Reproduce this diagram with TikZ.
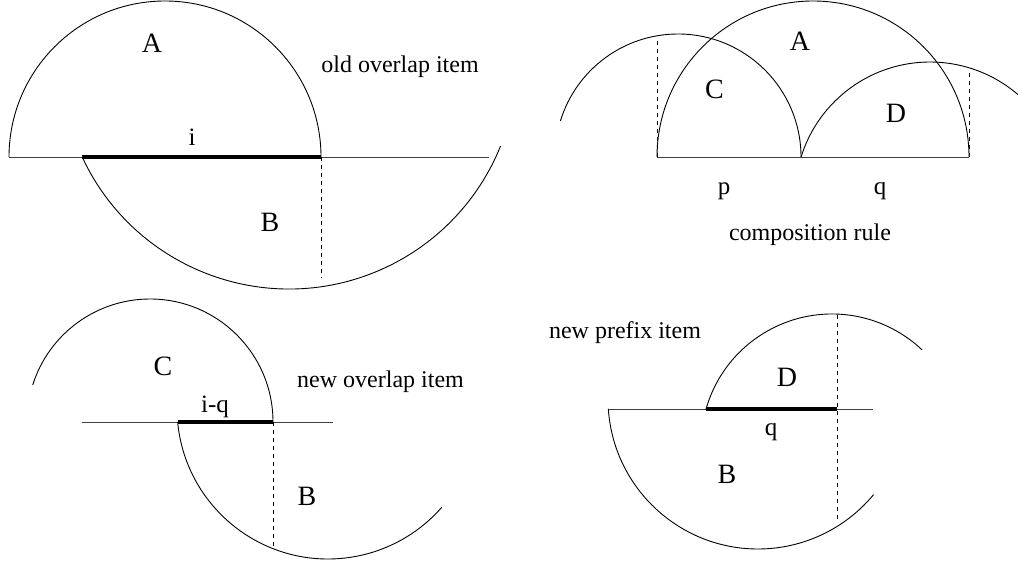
\documentclass[tikz,border=0pt]{standalone}
\usepackage{fontspec}
\setmainfont{Liberation Serif}
\begin{document}
\begin{tikzpicture}[x=1pt,y=-1pt,
  arcln/.style={line width=0.9pt, black},
  baseln/.style={line width=0.9pt, black!75},
  heavy/.style={line width=4pt, black},
  dashln/.style={line width=0.9pt, black, dash pattern=on 4pt off 4pt},
  lbl/.style={font=\fontsize{24}{28}\selectfont, inner sep=0pt, outer sep=0pt},
  caplbl/.style={font=\fontsize{28}{32}\selectfont, inner sep=0pt, outer sep=0pt},
  varlbl/.style={font=\fontsize{25}{29}\selectfont, inner sep=0pt, outer sep=0pt}]
\useasboundingbox (0,0) rectangle (1018,564);

% ---------- panel 1: old overlap item ----------
\coordinate (p1L) at (9,157);
\coordinate (p1R) at (489,157);
\coordinate (p1s) at (82,157);
\coordinate (p1e) at (321,157);
\coordinate (p1d) at (321,278);
\draw[baseln] (p1L) -- (p1R);
\draw[heavy] (p1s) -- (p1e);
\draw[arcln] (165,157) ++(180:156) arc[start angle=180, end angle=360, radius=156];
\draw[arcln] (289,61) ++(155.1:228) arc[start angle=155.1, end angle=21.9, radius=228];
\draw[dashln] (p1e) -- (p1d);
\node[caplbl] (A1) at (152,43) {A};
\node[varlbl] (i1) at (192,137) {i};
\node[caplbl] (B1) at (270,222) {B};
\node[lbl, anchor=base] (t1) at (400,73) {old overlap item};

% ---------- panel 2: composition rule ----------
\coordinate (p2L) at (657,157);
\coordinate (p2M) at (801,157);
\coordinate (p2R) at (969,157);
\coordinate (p2dl) at (657,37);
\coordinate (p2dr) at (969,72);
\draw[baseln] (p2L) -- (p2R);
\draw[arcln] (813,157) ++(180:156) arc[start angle=180, end angle=360, radius=156];
\draw[arcln] (678,157) ++(0:123) arc[start angle=0, end angle=-163, radius=123];
\draw[arcln] (930,197) ++(-162.8:135) arc[start angle=-162.8, end angle=-49, radius=135];
\draw[dashln] (p2L) -- (p2dl);
\draw[dashln] (p2R) -- (p2dr);
\node[caplbl] (A2) at (800,41) {A};
\node[caplbl] (C2) at (714.5,89) {C};
\node[caplbl] (D2) at (896,113) {D};
\node[varlbl] (p2) at (724,191) {p};
\node[varlbl] (q2) at (880,191) {q};
\node[lbl, anchor=base] (t2) at (810,241) {composition rule};

% ---------- panel 3: new overlap item ----------
\coordinate (p3L) at (82,422);
\coordinate (p3R) at (333,422);
\coordinate (p3s) at (178,422);
\coordinate (p3e) at (273,422);
\coordinate (p3d) at (273,549);
\draw[baseln] (p3L) -- (p3R);
\draw[heavy] (p3s) -- (p3e);
\draw[arcln] (150,422) ++(0:123) arc[start angle=0, end angle=-162.5, radius=123];
\draw[arcln] (328,408) ++(174.7:151) arc[start angle=174.7, end angle=41, radius=151];
\draw[dashln] (p3e) -- (p3d);
\node[caplbl] (C3) at (163,366) {C};
\node[varlbl] (iq3) at (215,407) {i-q};
\node[caplbl] (B3) at (307,496) {B};
\node[lbl, anchor=base] (t3) at (380.5,387) {new overlap item};

% ---------- panel 4: new prefix item ----------
\coordinate (p4L) at (609,409);
\coordinate (p4R) at (873,409);
\coordinate (p4s) at (706,409);
\coordinate (p4e) at (837,409);
\coordinate (p4dt) at (837,315);
\coordinate (p4db) at (837,520);
\draw[baseln] (p4L) -- (p4R);
\draw[heavy] (p4s) -- (p4e);
\draw[arcln] (832,445) ++(-164.1:131) arc[start angle=-164.1, end angle=-46.5, radius=131];
\draw[arcln] (758,399) ++(176.2:150) arc[start angle=176.2, end angle=39.6, radius=150];
\draw[dashln] (p4dt) -- (p4db);
\node[caplbl] (D4) at (787,377) {D};
\node[varlbl] (q4) at (771,432) {q};
\node[caplbl] (B4) at (727,474) {B};
\node[lbl, anchor=base] (t4) at (625,338) {new prefix item};
\end{tikzpicture}
\end{document}
